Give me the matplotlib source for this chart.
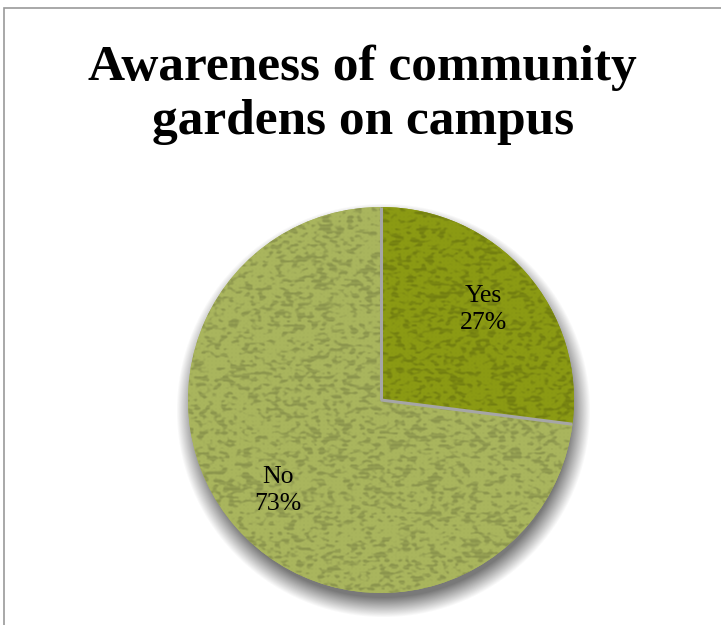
import numpy as np
import matplotlib
matplotlib.use("Agg")
import matplotlib.pyplot as plt
from matplotlib.patches import Rectangle

# survey answers
labels = ["Yes", "No"]
values = [27, 73]
colors = ["#8c9b14", "#aab65e"]
title = "Awareness of community\ngardens on campus"

W, H = 721, 625
fig = plt.figure(figsize=(W / 100, H / 100), dpi=100)
ax = fig.add_axes([0, 0, 1, 1])

# frame round the chart area
fig.patches.append(Rectangle((4 / W, -0.1), 1.2, 1 - 8 / H + 0.1, transform=fig.transFigure,
                             fill=False, edgecolor="#9a9a9a", linewidth=1.2))

fig.text(0.503, 0.848, title, ha="center", va="center", fontsize=37,
         fontweight="bold", family="Liberation Serif", linespacing=1.24)

cx, cy, r = 381, 225, 193

# soft drop shadow under the pie
yy, xx = np.mgrid[0:H, 0:W]
d = np.hypot(xx - (cx + 2), yy - (cy - 11))
blur = 10.0
a = np.clip((r + 4 + blur - d) / (2 * blur), 0, 1)
shadow = np.zeros((H, W, 4))
shadow[..., :3] = 0.45
shadow[..., 3] = a * 0.95
ax.imshow(shadow, extent=(0, W, 0, H), origin="lower", zorder=1, interpolation="bilinear")

wedges, _ = ax.pie(values, colors=colors, startangle=90, counterclock=False,
                   center=(cx, cy), radius=r, frame=True,
                   wedgeprops=dict(edgecolor="none", zorder=2))
ax.set_xlim(0, W)
ax.set_ylim(0, H)
ax.set_aspect("equal")
ax.axis("off")


def box_blur(arr, kx, ky):
    out = np.apply_along_axis(lambda v: np.convolve(v, np.ones(kx) / kx, mode="same"), 1, arr)
    return np.apply_along_axis(lambda v: np.convolve(v, np.ones(ky) / ky, mode="same"), 0, out)


# woven burlap texture laid over each slice
rng = np.random.default_rng(7)
size = 2 * r + 4
coarse = rng.random((size // 2 + 1, size // 3 + 1))
noise = np.kron(coarse, np.ones((2, 3)))[:size, :size]
noise = box_blur(noise, 5, 3)
rows = 0.5 + 0.5 * np.sin(np.arange(size) * 2 * np.pi / 4.0)[:, None]
cols = 0.5 + 0.5 * np.sin(np.arange(size) * 2 * np.pi / 4.0)[None, :]
spots = np.clip((noise - 0.52) * 7, 0, 1) * (0.6 + 0.4 * rows)
spots = np.clip(spots + 0.15 * rows * cols, 0, 1)
spots = box_blur(spots, 2, 2)
ext = (cx - size / 2, cx + size / 2, cy - size / 2, cy + size / 2)
for w, col in zip(wedges, colors):
    base = np.array(matplotlib.colors.to_rgb(col))
    dark = base * 0.76
    s = spots[..., None] * 0.8
    img = base[None, None, :] * (1 - s) + dark[None, None, :] * s
    im = ax.imshow(img, extent=ext, origin="lower", zorder=3, interpolation="bilinear")
    im.set_clip_path(w)

# thin grey seams between slices
for w in wedges[:1]:
    for th in (w.theta1, w.theta2):
        t = np.deg2rad(th)
        ax.plot([cx, cx + r * np.cos(t)], [cy, cy + r * np.sin(t)],
                color="#a6a6a6", linewidth=2.2, zorder=4, solid_capstyle="butt")

for w, lab, v in zip(wedges, labels, values):
    t = np.deg2rad((w.theta1 + w.theta2) / 2)
    ax.text(cx + 0.71 * r * np.cos(t), cy + 0.71 * r * np.sin(t), f"{lab}\n{v}%",
            ha="center", va="center", fontsize=18.5, family="Liberation Serif",
            linespacing=1.3, zorder=5)

fig.savefig("out.png", dpi=100)
